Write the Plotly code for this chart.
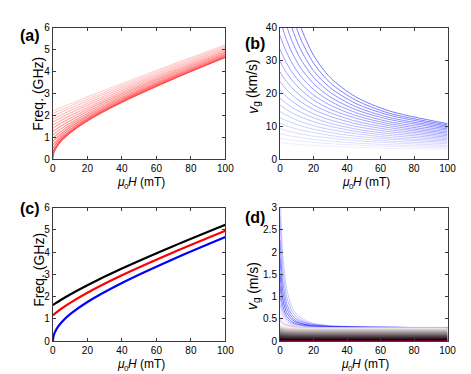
import plotly.graph_objects as go

# ---------------- data ----------------
H_A = [0, 0.3, 1, 3, 6, 10, 20, 40, 70, 100]
FREQ_A = [
    [0.000, 0.203, 0.371, 0.647, 0.923, 1.204, 1.749, 2.597, 3.667, 4.643],
    [0.163, 0.260, 0.406, 0.667, 0.937, 1.215, 1.756, 2.602, 3.671, 4.647],
    [0.325, 0.383, 0.493, 0.724, 0.979, 1.248, 1.779, 2.618, 3.683, 4.656],
    [0.486, 0.527, 0.612, 0.810, 1.044, 1.300, 1.817, 2.644, 3.702, 4.672],
    [0.646, 0.677, 0.746, 0.915, 1.128, 1.369, 1.867, 2.680, 3.729, 4.694],
    [0.804, 0.830, 0.887, 1.034, 1.226, 1.452, 1.930, 2.725, 3.763, 4.722],
    [0.961, 0.982, 1.031, 1.160, 1.335, 1.545, 2.002, 2.778, 3.803, 4.756],
    [1.115, 1.133, 1.176, 1.291, 1.451, 1.647, 2.083, 2.839, 3.849, 4.794],
    [1.266, 1.282, 1.320, 1.424, 1.571, 1.754, 2.170, 2.905, 3.901, 4.838],
    [1.413, 1.428, 1.462, 1.557, 1.693, 1.865, 2.262, 2.977, 3.957, 4.885],
    [1.557, 1.571, 1.602, 1.690, 1.816, 1.978, 2.357, 3.053, 4.017, 4.936],
    [1.697, 1.709, 1.738, 1.820, 1.938, 2.091, 2.455, 3.131, 4.080, 4.989],
    [1.831, 1.843, 1.870, 1.946, 2.058, 2.204, 2.553, 3.211, 4.145, 5.045],
    [1.960, 1.971, 1.997, 2.069, 2.176, 2.315, 2.651, 3.292, 4.211, 5.103],
    [2.084, 2.094, 2.118, 2.187, 2.288, 2.422, 2.747, 3.373, 4.278, 5.161],
    [2.200, 2.210, 2.233, 2.299, 2.397, 2.525, 2.840, 3.453, 4.345, 5.220],
]

H_B = [0, 3, 7, 12, 20, 30, 45, 65, 100]
VG_B = [
    [74.3, 61.4, 50.0, 40.7, 31.6, 24.8, 19.0, 14.7, 10.8],
    [63.6, 53.8, 44.7, 37.0, 29.2, 23.2, 18.0, 14.0, 10.4],
    [55.2, 47.4, 40.1, 33.7, 26.9, 21.7, 17.0, 13.4, 10.0],
    [48.3, 42.1, 36.1, 30.7, 24.9, 20.3, 16.0, 12.7, 9.6],
    [42.5, 37.6, 32.6, 28.0, 23.0, 18.9, 15.1, 12.1, 9.2],
    [37.6, 33.6, 29.4, 25.5, 21.2, 17.6, 14.2, 11.4, 8.8],
    [33.4, 30.1, 26.6, 23.3, 19.5, 16.4, 13.3, 10.8, 8.3],
    [29.8, 27.0, 24.1, 21.3, 18.0, 15.2, 12.5, 10.2, 7.9],
    [26.5, 24.2, 21.8, 19.4, 16.5, 14.1, 11.6, 9.6, 7.5],
    [23.6, 21.7, 19.6, 17.6, 15.1, 13.0, 10.8, 9.0, 7.1],
    [21.0, 19.4, 17.7, 15.9, 13.8, 11.9, 10.0, 8.4, 6.7],
    [18.6, 17.3, 15.8, 14.4, 12.6, 10.9, 9.2, 7.8, 6.3],
    [16.5, 15.4, 14.1, 12.9, 11.4, 10.0, 8.5, 7.2, 5.9],
    [14.5, 13.6, 12.6, 11.5, 10.2, 9.0, 7.8, 6.6, 5.5],
    [12.6, 11.9, 11.1, 10.2, 9.1, 8.1, 7.0, 6.1, 5.1],
    [10.9, 10.3, 9.6, 8.9, 8.1, 7.2, 6.3, 5.5, 4.7],
    [9.3, 8.8, 8.3, 7.7, 7.0, 6.4, 5.6, 5.0, 4.2],
    [7.8, 7.4, 7.0, 6.6, 6.0, 5.5, 4.9, 4.4, 3.8],
    [6.4, 6.1, 5.8, 5.5, 5.1, 4.7, 4.3, 3.9, 3.4],
    [5.0, 4.9, 4.7, 4.4, 4.2, 3.9, 3.6, 3.3, 3.0],
]

H_C = [0, 0.3, 1, 3, 6, 10, 20, 40, 70, 100]
FREQ_C_BLACK = [1.620, 1.636, 1.672, 1.771, 1.915, 2.096, 2.513, 3.261, 4.276, 5.230]
FREQ_C_RED = [1.160, 1.180, 1.225, 1.347, 1.516, 1.722, 2.178, 2.961, 3.997, 4.960]
FREQ_C_BLUE = [0.000, 0.205, 0.374, 0.652, 0.930, 1.213, 1.761, 2.615, 3.693, 4.676]

H_D = [0, 1, 2, 4, 7, 10, 15, 20, 30, 45, 65, 100]
VG_D_UPPER = [
    [3.44, 2.40, 1.80, 1.18, 0.78, 0.60, 0.47, 0.40, 0.35, 0.33, 0.31, 0.31],
    [2.81, 1.98, 1.50, 1.00, 0.68, 0.54, 0.43, 0.38, 0.34, 0.32, 0.31, 0.30],
    [2.28, 1.62, 1.25, 0.85, 0.60, 0.49, 0.41, 0.37, 0.33, 0.32, 0.31, 0.30],
    [1.87, 1.35, 1.05, 0.74, 0.54, 0.45, 0.38, 0.35, 0.33, 0.31, 0.31, 0.30],
    [1.53, 1.12, 0.89, 0.64, 0.49, 0.42, 0.37, 0.34, 0.32, 0.31, 0.31, 0.30],
    [1.24, 0.93, 0.75, 0.56, 0.44, 0.39, 0.35, 0.33, 0.32, 0.31, 0.30, 0.30],
    [1.02, 0.78, 0.65, 0.50, 0.41, 0.37, 0.34, 0.32, 0.31, 0.31, 0.30, 0.30],
    [0.83, 0.66, 0.56, 0.45, 0.38, 0.35, 0.33, 0.32, 0.31, 0.30, 0.30, 0.30],
    [0.68, 0.55, 0.48, 0.41, 0.36, 0.34, 0.32, 0.31, 0.31, 0.30, 0.30, 0.30],
    [0.55, 0.47, 0.42, 0.37, 0.34, 0.32, 0.31, 0.31, 0.30, 0.30, 0.30, 0.30],
    [0.50, 0.44, 0.41, 0.37, 0.34, 0.32, 0.31, 0.30, 0.30, 0.29, 0.29, 0.29],
    [0.46, 0.41, 0.38, 0.35, 0.33, 0.31, 0.30, 0.29, 0.29, 0.29, 0.28, 0.28],
]
H_D_BAND = [0, 2, 5, 10, 20, 100]
VG_D_BAND = [
    [0.336, 0.308, 0.294, 0.286, 0.280, 0.280],
    [0.312, 0.286, 0.273, 0.265, 0.260, 0.260],
    [0.288, 0.264, 0.252, 0.245, 0.240, 0.240],
    [0.264, 0.242, 0.231, 0.224, 0.220, 0.220],
    [0.240, 0.220, 0.210, 0.204, 0.200, 0.200],
    [0.216, 0.198, 0.189, 0.184, 0.180, 0.180],
    [0.192, 0.176, 0.168, 0.163, 0.160, 0.160],
    [0.168, 0.154, 0.147, 0.143, 0.140, 0.140],
    [0.144, 0.132, 0.126, 0.122, 0.120, 0.120],
    [0.120, 0.110, 0.105, 0.102, 0.100, 0.100],
    [0.096, 0.088, 0.084, 0.082, 0.080, 0.080],
    [0.072, 0.066, 0.063, 0.061, 0.060, 0.060],
    [0.048, 0.044, 0.042, 0.041, 0.040, 0.040],
    [0.024, 0.022, 0.021, 0.020, 0.020, 0.020],
]
VG_D_BOTTOM = [0.006, 0.006, 0.006, 0.006, 0.006, 0.006]

X_TICKS = [0, 20, 40, 60, 80, 100]
FREQ_TICKS = [0, 1, 2, 3, 4, 5, 6]
VKM_TICKS = [0, 10, 20, 30, 40]
VM_TICKS = [0, 0.5, 1, 1.5, 2, 2.5, 3]
VM_TICK_TEXT = ["0", "0.5", "1", "1.5", "2", "2.5", "3"]

FREQ_TITLE = "Freq. (GHz)"
PANEL_LABELS = ["(a)", "(b)", "(c)", "(d)"]

# ---------------- figure ----------------
W, HGT = 471, 374
FONT = "Liberation Sans, Arial, sans-serif"
fig = go.Figure()


def mix(c1, c2, t):
    c = tuple(round(p + (q - p) * t) for p, q in zip(c1, c2))
    return "rgb(%d,%d,%d)" % c


def line(x, y, color, width, ax, shape="spline"):
    fig.add_trace(go.Scatter(x=x, y=y, mode="lines",
                             line=dict(color=color, width=width, shape=shape, smoothing=0.8),
                             xaxis="x" + ax, yaxis="y" + ax,
                             hoverinfo="skip", showlegend=False))


# (a)
n = len(FREQ_A)
for i in range(n - 1, -1, -1):
    line(H_A, FREQ_A[i], mix((255, 80, 80), (255, 212, 212), i / (n - 1)), 1.1, "")

# (b)
n = len(VG_B)
for i in range(n - 1, -1, -1):
    line(H_B, VG_B[i], mix((105, 105, 255), (236, 236, 255), i / (n - 1)), 0.9, "2")

# (c)
line(H_C, FREQ_C_BLUE, "rgb(0,0,255)", 2.2, "3")
line(H_C, FREQ_C_RED, "rgb(255,0,0)", 2.2, "3")
line(H_C, FREQ_C_BLACK, "rgb(0,0,0)", 2.2, "3")

# (d)
upper_colors = ["rgba(120,120,255,0.40)", "rgba(90,90,255,0.45)", "rgba(60,60,255,0.55)",
                "rgba(40,40,255,0.60)", "rgba(20,20,255,0.65)", "rgba(30,30,255,0.60)",
                "rgba(80,80,255,0.50)", "rgba(150,150,255,0.45)", "rgba(200,200,255,0.45)",
                "rgba(225,220,250,0.6)", "rgba(250,195,210,0.8)", "rgba(240,170,190,0.8)"]
for i, ys in enumerate(VG_D_UPPER):
    line(H_D, ys, upper_colors[i], 1.0, "4")
nb = len(VG_D_BAND)
for i, ys in enumerate(VG_D_BAND):
    t = i / (nb - 1)
    line(H_D_BAND, ys, mix((236, 232, 232), (25, 0, 10), t), 1.8, "4")
line(H_D_BAND, VG_D_BOTTOM, "rgb(130,0,60)", 1.5, "4")

axis_common = dict(showline=True, linecolor="#3a3a3a", linewidth=1, mirror="ticks",
                   ticks="inside", ticklen=3, tickwidth=1, tickcolor="#3a3a3a",
                   showgrid=False, zeroline=False,
                   tickfont=dict(family=FONT, size=10, color="black"))

ya_top = [1 - 150 / HGT, 1 - 14 / HGT]
ya_bot = [1 - 338 / HGT, 1 - 200 / HGT]
xa_left = [43 / W, 220 / W]
xa_right = [276 / W, 448 / W]

fig.update_layout(
    width=W, height=HGT, margin=dict(l=0, r=0, t=0, b=0),
    paper_bgcolor="white", plot_bgcolor="white",
    xaxis=dict(domain=xa_left, anchor="y", range=[0, 100], tickvals=X_TICKS, **axis_common),
    yaxis=dict(domain=ya_top, anchor="x", range=[0, 6], tickvals=FREQ_TICKS, **axis_common),
    xaxis2=dict(domain=xa_right, anchor="y2", range=[0, 100], tickvals=X_TICKS, **axis_common),
    yaxis2=dict(domain=ya_top, anchor="x2", range=[0, 40], tickvals=VKM_TICKS, **axis_common),
    xaxis3=dict(domain=xa_left, anchor="y3", range=[0, 100], tickvals=X_TICKS, **axis_common),
    yaxis3=dict(domain=ya_bot, anchor="x3", range=[0, 6], tickvals=FREQ_TICKS, **axis_common),
    xaxis4=dict(domain=xa_right, anchor="y4", range=[0, 100], tickvals=X_TICKS, **axis_common),
    yaxis4=dict(domain=ya_bot, anchor="x4", range=[0, 3], tickvals=VM_TICKS,
                ticktext=VM_TICK_TEXT, **axis_common),
)


def ann(text, px, py, size, xanchor="center", yanchor="middle", angle=0):
    fig.add_annotation(text=text, x=px / W, y=1 - py / HGT, xref="paper", yref="paper",
                       xanchor=xanchor, yanchor=yanchor, showarrow=False, borderpad=0,
                       textangle=angle, font=dict(family=FONT, size=size, color="black"))


# panel labels
for lab, (px, py) in zip(PANEL_LABELS, [(20, 22), (250, 30), (20, 201), (250, 210)]):
    ann("<b>%s</b>" % lab, px, py, 16)


# x titles:  mu_0 H (mT), built from pieces (main text + lowered small subscript)
def x_title(cx, cy):
    s = cx - 24.5
    ann("<i>μ</i>", s, cy, 12, xanchor="left")
    ann("0", s + 7.0, cy + 4, 8, xanchor="left")
    ann("<i>H</i> (mT)", s + 11.6, cy, 12, xanchor="left")


# rotated y titles: v_g (unit)
def v_title(cx, cy, unit, unit_len):
    total = 7 + 5.6 + 3.9 + unit_len
    b = cy + total / 2
    ann("<i>v</i>", cx, b, 14, yanchor="bottom", angle=-90)
    ann("g", cx + 4, b - 7.2, 10, yanchor="bottom", angle=-90)
    ann(unit, cx, b - 7.2 - 5.6 - 3.9, 14, yanchor="bottom", angle=-90)


x_title(132, 174)
x_title(363, 174)
x_title(132, 362)
x_title(362, 362)
ann(FREQ_TITLE, 28, 82, 14, angle=-90)
ann(FREQ_TITLE, 28, 264, 14, angle=-90)
v_title(248, 78, "(km/s)", 36.4)
v_title(248, 283, "(m/s)", 31.9)

fig.write_html("out.html")
